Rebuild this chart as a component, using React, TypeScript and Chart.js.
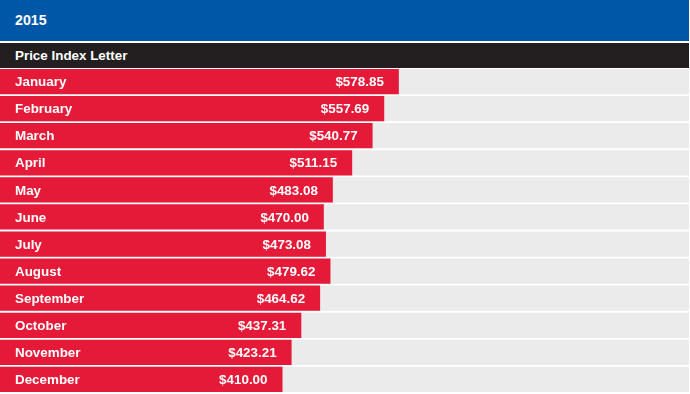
import React, { useEffect, useRef } from "react";
import { Chart, registerables } from "chart.js";

Chart.register(...registerables);

const title = "2015";
const subtitle = "Price Index Letter";
const months = [
  "January", "February", "March", "April", "May", "June",
  "July", "August", "September", "October", "November", "December",
];
const prices = [578.85, 557.69, 540.77, 511.15, 483.08, 470.0, 473.08, 479.62, 464.62, 437.31, 423.21, 410.0];
const axisMax = 1000;
const trackValues = [1000, 1000, 1000, 1000, 1000, 1000, 1000, 1000, 1000, 1000, 1000, 1000];

const FONT = "Arial, 'Liberation Sans', sans-serif";
const RED = "#E41A38";
const GRAY = "#EBEBEB";
const BLUE = "#0157A7";
const DARK = "#231F20";

const labelPlugin = {
  id: "barLabels",
  afterDatasetsDraw(chart: any) {
    const ctx = chart.ctx;
    const meta = chart.getDatasetMeta(0);
    ctx.save();
    ctx.font = `bold 13.4px ${FONT}`;
    ctx.fillStyle = "#ffffff";
    ctx.textBaseline = "middle";
    meta.data.forEach((bar: any, i: number) => {
      ctx.textAlign = "left";
      ctx.fillText(months[i], chart.chartArea.left + 15, bar.y + 1);
      ctx.textAlign = "right";
      ctx.fillText("$" + prices[i].toFixed(2), bar.x - 15, bar.y + 1);
    });
    ctx.restore();
  },
};

export default function App() {
  const ref = useRef<HTMLCanvasElement | null>(null);
  useEffect(() => {
    document.body.style.margin = "0";
    if (!ref.current) return;
    const chart = new Chart(ref.current, {
      type: "bar",
      data: {
        labels: months,
        datasets: [
          {
            data: prices,
            backgroundColor: RED,
            borderWidth: 0,
            grouped: false,
            order: 0,
            barPercentage: 1,
            categoryPercentage: 0.93,
          },
          {
            data: trackValues,
            backgroundColor: GRAY,
            borderWidth: 0,
            grouped: false,
            order: 1,
            barPercentage: 1,
            categoryPercentage: 0.93,
          },
        ],
      },
      options: {
        indexAxis: "y",
        animation: false,
        responsive: false,
        maintainAspectRatio: false,
        layout: { padding: 0 },
        scales: {
          x: { display: false, min: 0, max: axisMax },
          y: { display: false },
        },
        plugins: {
          legend: { display: false },
          tooltip: { enabled: false },
        },
      },
      plugins: [labelPlugin],
    } as any);
    return () => chart.destroy();
  }, []);

  return (
    <div style={{ width: 689, fontFamily: FONT }}>
      <div
        style={{
          height: 41,
          background: BLUE,
          color: "#fff",
          fontWeight: "bold",
          fontSize: 14.2,
          lineHeight: "41px",
          paddingLeft: 15,
        }}
      >
        {title}
      </div>
      <div
        style={{
          marginTop: 2,
          height: 25,
          background: DARK,
          color: "#fff",
          fontWeight: "bold",
          fontSize: 13.4,
          lineHeight: "25px",
          paddingLeft: 15,
        }}
      >
        {subtitle}
      </div>
      <canvas ref={ref} width={689} height={325} style={{ display: "block", marginTop: 0 }} />
    </div>
  );
}
